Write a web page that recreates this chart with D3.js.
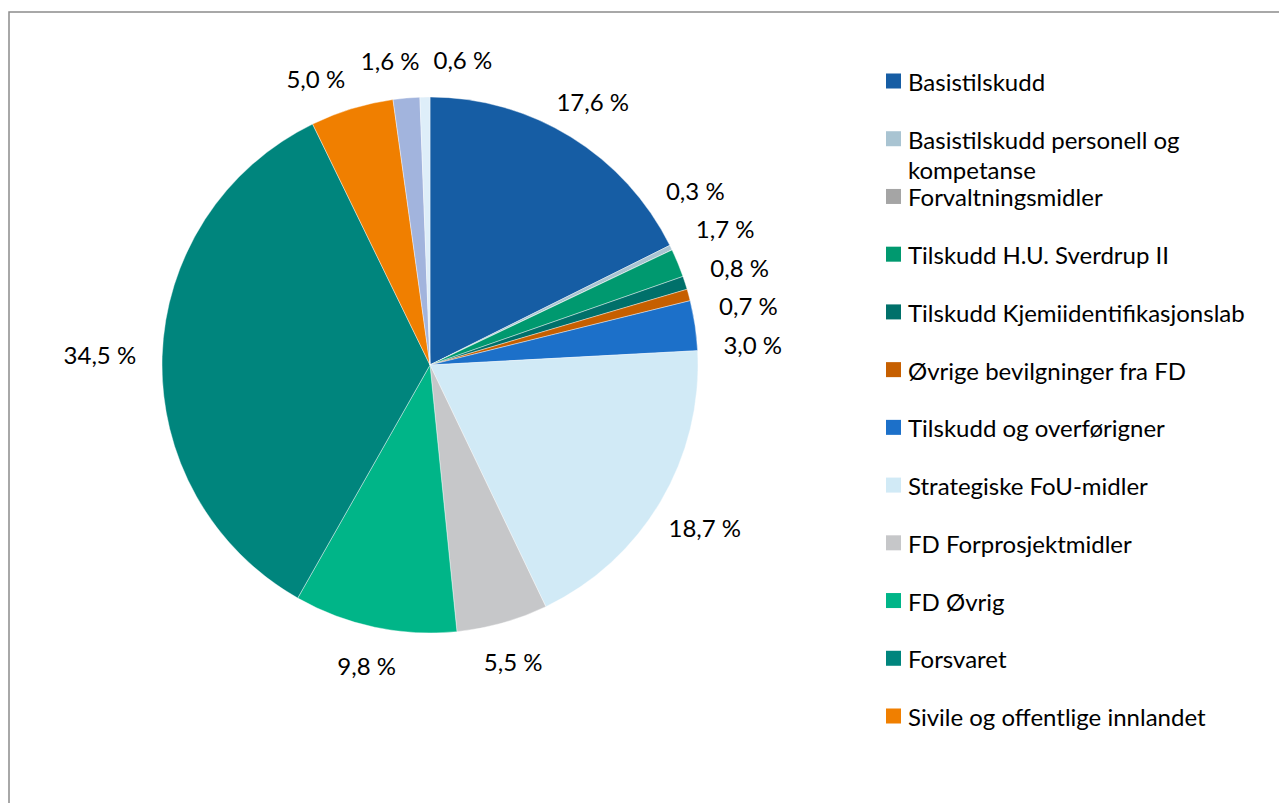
<!DOCTYPE html>
<html>
<head>
<meta charset="utf-8">
<script src="https://cdn.jsdelivr.net/npm/d3@7"></script>
<style>
  body { margin: 0; background: #fff; }
  text { font-family: Lato, "Open Sans", sans-serif; fill: #000; }
</style>
</head>
<body>
<div id="chart"></div>
<script>
// share of income per source, in percent (clockwise from 12 o'clock)
var categories = [
    "Basistilskudd",
    "Basistilskudd personell og kompetanse",
    "Forvaltningsmidler",
    "Tilskudd H.U. Sverdrup II",
    "Tilskudd Kjemiidentifikasjonslab",
    "Øvrige bevilgninger fra FD",
    "Tilskudd og overførigner",
    "Strategiske FoU-midler",
    "FD Forprosjektmidler",
    "FD Øvrig",
    "Forsvaret",
    "Sivile og offentlige innlandet",
    "Sivile og offentlige utlandet",
    "Andre inntekter"
];
var shares = [17.6, 0.3, 0, 1.7, 0.8, 0.7, 3.0, 18.7, 5.5, 9.8, 34.5, 5.0, 1.6, 0.6];
var colors = ["#165da4", "#a9c4d2", "#a5a5a5", "#00996f", "#00706a", "#c65f00",
    "#1c70c9", "#d1eaf6", "#c6c7c9", "#00b588", "#00857d", "#f07f00", "#a2b4dd", "#deeef9"];
// the legend box only had room for the first 12 entries
var legendCount = 12;

var width = 1279, height = 803;
var cx = 430, cy = 365, radius = 268;

var svg = d3.select("#chart").append("svg")
    .attr("width", width)
    .attr("height", height);

// chart frame (runs off the right and bottom edge)
svg.append("rect")
    .attr("x", 9).attr("y", 12)
    .attr("width", 1400).attr("height", 900)
    .style("fill", "none")
    .style("stroke", "#8c8c8c")
    .style("stroke-width", 1.5);

var data = categories.map(function (c, i) {
    return { name: c, value: shares[i], color: colors[i] };
});

var pie = d3.pie().sort(null).value(function (d) { return d.value; });
var arc = d3.arc().innerRadius(0).outerRadius(radius);
var arcs = pie(data);

var g = svg.append("g")
    .attr("transform", "translate(" + cx + "," + cy + ")");

g.selectAll("path")
    .data(arcs)
    .enter().append("path")
    .attr("d", arc)
    .style("fill", function (d) { return d.data.color; })
    .style("stroke", "#fff")
    .style("stroke-width", 0.4);

// data labels
var fmt = function (v) { return d3.format(".1f")(v).replace(".", ",") + " %"; };
var labelArcs = arcs.filter(function (d) { return d.value > 0; });

var labels = g.selectAll("text.lbl")
    .data(labelArcs)
    .enter().append("text")
    .attr("class", "lbl")
    .attr("text-anchor", "middle")
    .attr("dominant-baseline", "central")
    .style("font-size", "24px")
    .text(function (d) { return fmt(d.value); });

var L = 294, halfH = 13, boxH = 38, gapX = 14;
labels.each(function (d) {
    d.w = this.getComputedTextLength();
    d.a = (d.startAngle + d.endAngle) / 2;
});

function place(d) {
    var ux = Math.sin(d.a), uy = -Math.cos(d.a);
    var t = Math.min(Math.abs(ux) > 1e-6 ? (d.w / 2) / Math.abs(ux) : 1e9,
        Math.abs(uy) > 1e-6 ? halfH / Math.abs(uy) : 1e9);
    return { x: (L + t) * ux, y: (L + t) * uy };
}

// push neighbouring labels apart along the circle until they stop overlapping
var ld = labelArcs;
for (var it = 0; it < 500; it++) {
    var moved = false;
    for (var i = 0; i < ld.length; i++) {
        var A = ld[i], B = ld[(i + 1) % ld.length];
        var pa = place(A), pb = place(B);
        var ox = (A.w + B.w) / 2 + gapX - Math.abs(pa.x - pb.x);
        var oy = boxH - Math.abs(pa.y - pb.y);
        if (ox > 0 && oy > 0) {
            A.a -= 0.003;
            B.a += 0.003;
            moved = true;
        }
    }
    if (!moved) break;
}

labels
    .attr("x", function (d) { return place(d).x; })
    .attr("y", function (d) { return place(d).y; });

// legend
var legendData = data.slice(0, legendCount);
var ly = d3.scalePoint()
    .domain(legendData.map(function (d) { return d.name; }))
    .range([81, 716]);

var legend = svg.append("g");
var items = legend.selectAll("g")
    .data(legendData)
    .enter().append("g")
    .attr("transform", function (d) { return "translate(886," + ly(d.name) + ")"; });

items.append("rect")
    .attr("x", 0).attr("y", -7.5)
    .attr("width", 15).attr("height", 15)
    .style("fill", function (d) { return d.color; });

var maxW = 365;
items.append("text")
    .attr("x", 22)
    .attr("dominant-baseline", "central")
    .style("font-size", "24px")
    .each(function (d) {
        var el = d3.select(this);
        var words = d.name.split(" ");
        var line = [], tspan = el.append("tspan").attr("x", 22).attr("dy", 0);
        words.forEach(function (w) {
            line.push(w);
            tspan.text(line.join(" "));
            if (tspan.node().getComputedTextLength() > 300 && line.length > 1 && d.name.length > 34) {
                line.pop();
                tspan.text(line.join(" "));
                line = [w];
                tspan = el.append("tspan").attr("x", 22).attr("dy", 30).text(w);
            }
        });
    });
</script>
</body>
</html>
